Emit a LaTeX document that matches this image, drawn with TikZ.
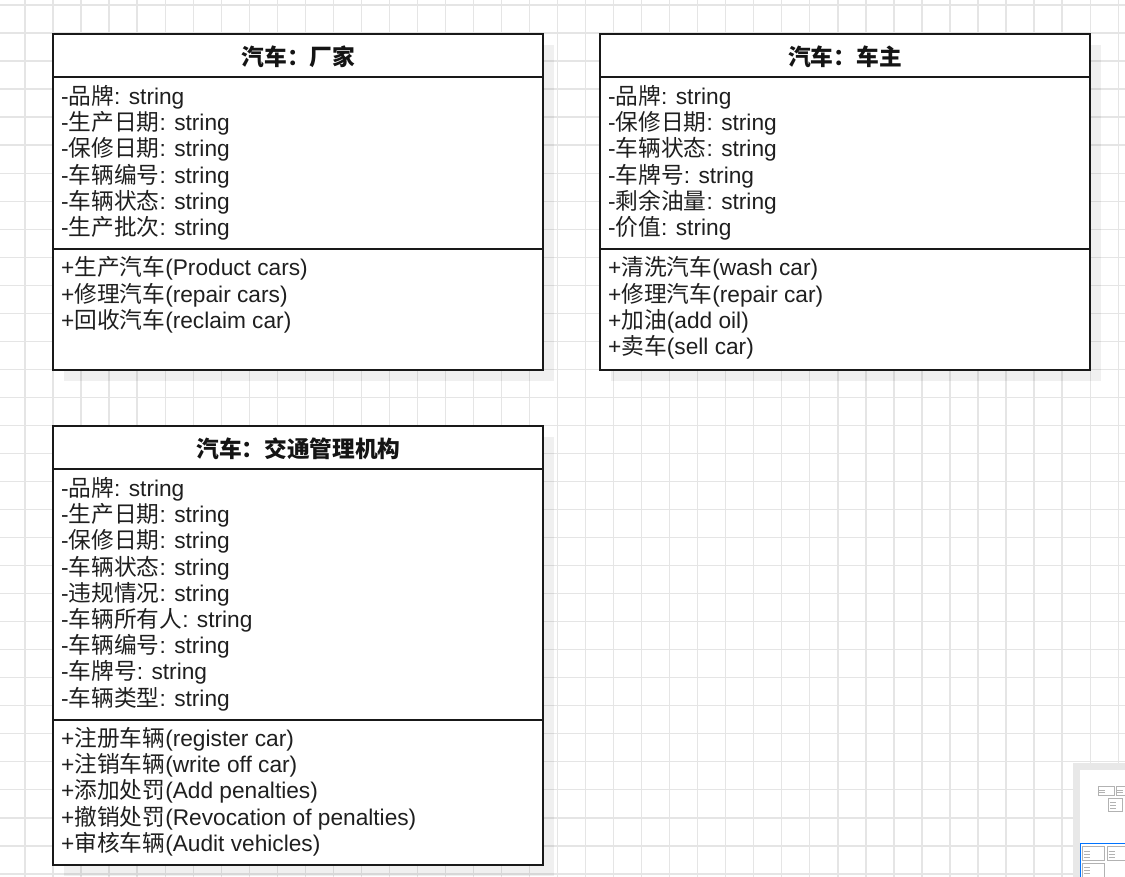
\documentclass[tikz,border=0pt]{standalone}
\usepackage{fontspec}
\setmainfont{Liberation Sans}
\newfontfamily\cjk{Noto Sans CJK SC}
\newcommand\cj[1]{{\cjk #1}}
\begin{document}
\begin{tikzpicture}[x=1pt,y=-1pt,
  gridline/.style={draw=black!10, line width=1.3pt},
  shadowbox/.style={fill=black, fill opacity=0.06, draw=none},
  classbox/.style={draw=black!90, line width=1.6pt, fill=white, inner sep=0pt, outer sep=0pt, anchor=north west},
  divider/.style={draw=black!90, line width=1.6pt},
  txt/.style={anchor=base west, inner sep=0pt, font=\fontsize{22.7}{26}\selectfont, text=black!88},
  title/.style={anchor=center, inner sep=0pt, font=\fontsize{22.7}{26}\selectfont\cjk\bfseries, text=black!92},
  mini/.style={draw=black!30, line width=0.4pt, fill=white}
]
\useasboundingbox (0,0) rectangle (1125,877);
\fill[white] (0,0) rectangle (1125,877);
% grid
\foreach \i in {0,...,39} \draw[gridline] ({25+28.03*\i},0) -- ({25+28.03*\i},877);
\foreach \j in {0,...,31} \draw[gridline] (0,{5+28.03*\j}) -- (1125,{5+28.03*\j});
% shadows
\fill[shadowbox] (64,45) rectangle (554,381);
\fill[shadowbox] (611,45) rectangle (1101,381);
\fill[shadowbox] (64,437) rectangle (554,876);
% boxes
\node[classbox, minimum width=490pt, minimum height=336pt] (c1) at (53,34) {};
\node[classbox, minimum width=490pt, minimum height=336pt] (c2) at (600,34) {};
\node[classbox, minimum width=490pt, minimum height=439pt] (c3) at (53,426) {};
\draw[divider] (c1.west |- 0,77) -- (c1.east |- 0,77);
\draw[divider] (c1.west |- 0,249) -- (c1.east |- 0,249);
\draw[divider] (c2.west |- 0,77) -- (c2.east |- 0,77);
\draw[divider] (c2.west |- 0,249) -- (c2.east |- 0,249);
\draw[divider] (c3.west |- 0,469) -- (c3.east |- 0,469);
\draw[divider] (c3.west |- 0,720) -- (c3.east |- 0,720);
% titles
\node[title] (t1) at (298.5,56.5) {汽车：厂家};
\node[title] (t2) at (845,56.5) {汽车：车主};
\node[title] (t3) at (298.5,448.5) {汽车：交通管理机构};
% box 1
\foreach [count=\i] \t in {-\cj{品牌}: string, -\cj{生产日期}: string, -\cj{保修日期}: string, -\cj{车辆编号}: string, -\cj{车辆状态}: string, -\cj{生产批次}: string}
  \node[txt] (a1\i) at (61,{104.5+26.2*(\i-1)}) {\t};
\foreach [count=\i] \t in {+\cj{生产汽车}(Product cars), +\cj{修理汽车}(repair cars), +\cj{回收汽车}(reclaim car)}
  \node[txt] (m1\i) at (61,{276+26.2*(\i-1)}) {\t};
% box 2
\foreach [count=\i] \t in {-\cj{品牌}: string, -\cj{保修日期}: string, -\cj{车辆状态}: string, -\cj{车牌号}: string, -\cj{剩余油量}: string, -\cj{价值}: string}
  \node[txt] (a2\i) at (608,{104.5+26.2*(\i-1)}) {\t};
\foreach [count=\i] \t in {+\cj{清洗汽车}(wash car), +\cj{修理汽车}(repair car), +\cj{加油}(add oil), +\cj{卖车}(sell car)}
  \node[txt] (m2\i) at (608,{276+26.2*(\i-1)}) {\t};
% box 3
\foreach [count=\i] \t in {-\cj{品牌}: string, -\cj{生产日期}: string, -\cj{保修日期}: string, -\cj{车辆状态}: string, -\cj{违规情况}: string, -\cj{车辆所有人}: string, -\cj{车辆编号}: string, -\cj{车牌号}: string, -\cj{车辆类型}: string}
  \node[txt] (a3\i) at (61,{496.5+26.2*(\i-1)}) {\t};
\foreach [count=\i] \t in {+\cj{注册车辆}(register car), +\cj{注销车辆}(write off car), +\cj{添加处罚}(Add penalties), +\cj{撤销处罚}(Revocation of penalties), +\cj{审核车辆}(Audit vehicles)}
  \node[txt] (m3\i) at (61,{746.5+26.2*(\i-1)}) {\t};
% minimap
\fill[black!9] (1073,763) rectangle (1125,877);
\fill[white] (1080,770) rectangle (1125,877);
\draw[mini] (1097.7,785.7) rectangle (1114.3,795);
\draw[mini] (1116,785.7) rectangle (1126,795);
\draw[mini] (1108.3,798.3) rectangle (1121.7,811);
\draw[mini] (1082,846) rectangle (1104,860);
\draw[mini] (1106.7,846) rectangle (1126,860);
\draw[mini] (1082,862.7) rectangle (1104,878);
\foreach \x/\y in {1099/790, 1099/792.5, 1117/790, 1117/792.5, 1110/802, 1110/805, 1110/808, 1084/851, 1084/854, 1084/857, 1108.5/851, 1108.5/854, 1108.5/857, 1084/867, 1084/870, 1084/873}
  \draw[black!30, line width=0.5pt] (\x,\y) -- ++(6,0);
\draw[blue!55!cyan, line width=1.2pt] (1080.6,843.6) rectangle (1126,878);
\end{tikzpicture}
\end{document}
